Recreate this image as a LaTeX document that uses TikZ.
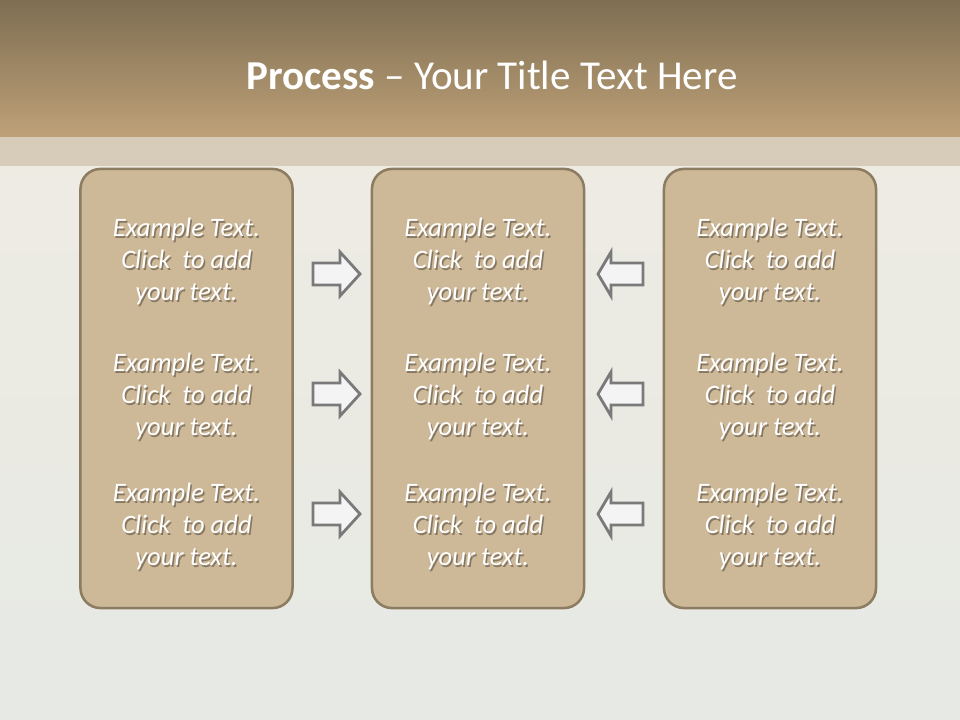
\documentclass[tikz,border=0pt]{standalone}
\usepackage{fontspec}
\setmainfont{Carlito}
\definecolor{bandtop}{RGB}{126,110,82}
\definecolor{bandbot}{RGB}{190,161,120}
\definecolor{stripcol}{RGB}{215,204,185}
\definecolor{paper}{RGB}{240,236,226}
\definecolor{paperblue}{RGB}{230,233,228}
\definecolor{boxfill}{RGB}{205,184,152}
\definecolor{boxline}{RGB}{140,124,97}
\definecolor{arrowfill}{RGB}{244,244,244}
\definecolor{arrowline}{RGB}{122,122,122}
\tikzset{
  procbox/.style={draw=boxline, line width=1.8pt, fill=boxfill,
    rounded corners=0.5cm, minimum width=5.3cm, minimum height=10.975cm},
  itemtext/.style={text=white, align=center, inner sep=0pt,
    font={\fontsize{18.9}{22.7}\selectfont\itshape}},
  itemshadow/.style={itemtext, text=black, text opacity=0.35},
  procarrow/.style={draw=arrowline, fill=arrowfill, line width=2pt, line join=miter},
  titletext/.style={text=white, inner sep=0pt, font={\fontsize{29.2}{35}\selectfont}}
}
\newcommand{\itemlines}{Example Text.\\Click~~to add\\your text.}
\begin{document}
\begin{tikzpicture}[x=0.025cm, y=-0.025cm]
  % paper background and title band
  \shade[top color=paper, bottom color=paperblue] (0,0) rectangle (960,720);
  \shade[top color=bandtop, bottom color=bandbot] (0,0) rectangle (960,137);
  \fill[stripcol] (0,137) rectangle (960,166);
  \node[titletext] (title) at (492,75) {\textbf{Process} -- Your Title Text Here};
  % three columns of boxes with text
  \foreach \cx/\col in {186.5/l,478/m,770/r} {
    \node[procbox] (\col box) at (\cx,388.5) {};
    \foreach \cy/\row in {261/1,396/2,526/3} {
      \node[itemshadow] at (\cx+1.5,\cy+2) {\itemlines};
      \node[itemtext] (\col\row) at (\cx,\cy) {\itemlines};
    }
  }
  % arrows pointing into the middle column
  \foreach \ay in {274,394,514} {
    \draw[procarrow] (313,\ay) ++(0,-11) -- ++(27,0) -- ++(0,-11) -- ++(20,22)
      -- ++(-20,22) -- ++(0,-11) -- ++(-27,0) -- cycle;
    \draw[procarrow] (643,\ay) ++(0,-11) -- ++(-32,0) -- ++(0,-11) -- ++(-13,22)
      -- ++(13,22) -- ++(0,-11) -- ++(32,0) -- cycle;
  }
\end{tikzpicture}
\end{document}
